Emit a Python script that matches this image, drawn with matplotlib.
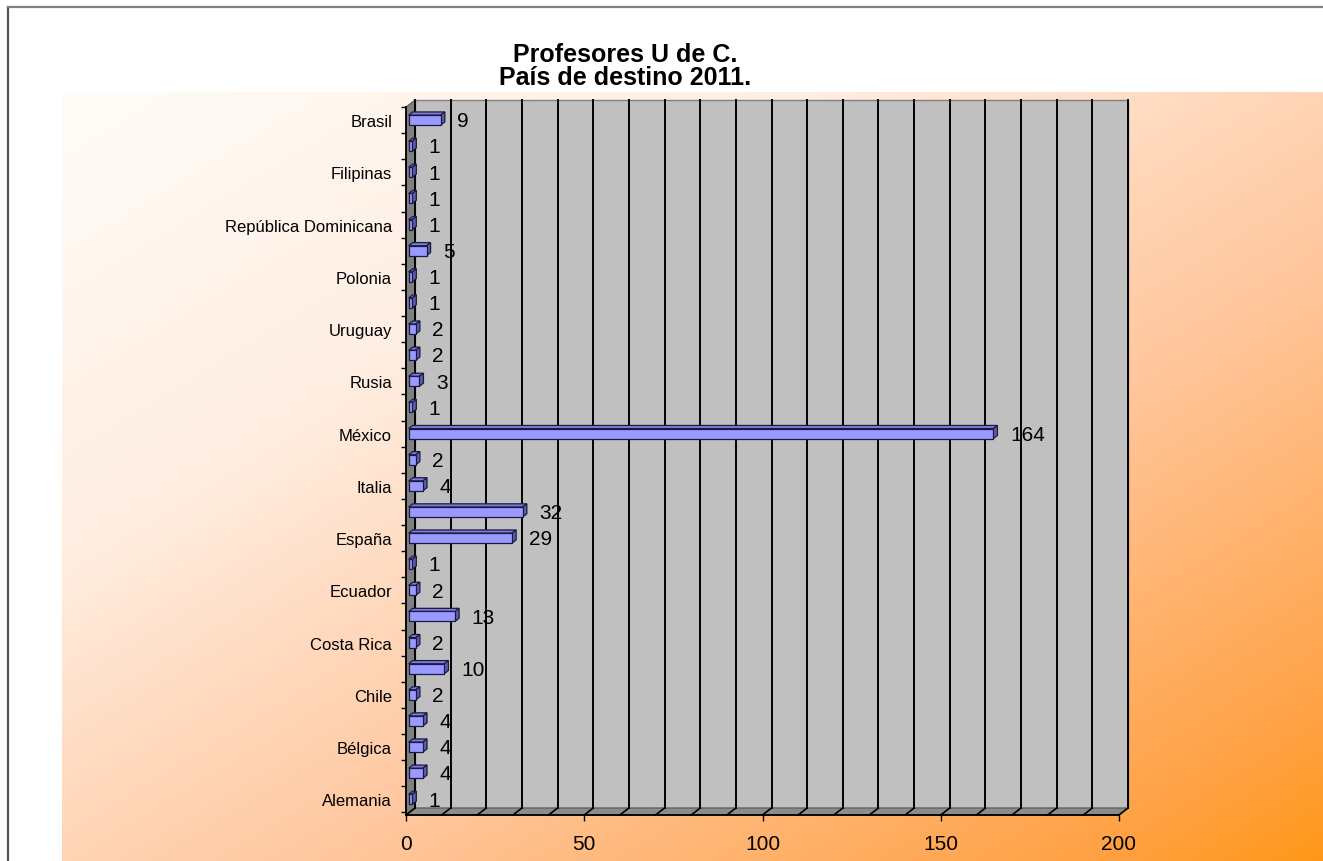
import numpy as np
import matplotlib.pyplot as plt
from matplotlib.patches import Polygon
from matplotlib.lines import Line2D

plt.rcParams["font.family"] = ["Liberation Sans", "DejaVu Sans"]

# data (bottom to top, as drawn); blank labels are categories Excel skipped
paises = ["Alemania", "", "Bélgica", "", "Chile", "", "Costa Rica", "",
          "Ecuador", "", "España", "", "Italia", "", "México", "", "Rusia", "",
          "Uruguay", "", "Polonia", "", "República Dominicana", "", "Filipinas",
          "", "Brasil"]
profesores = [1, 4, 4, 4, 2, 10, 2, 13, 2, 1, 29, 32, 4, 2, 164, 1, 3, 2, 2,
              1, 1, 5, 1, 1, 1, 1, 9]
x_ticks = [0, 50, 100, 150, 200]
titulo = ["Profesores U de C.", "País de destino 2011."]

W, H = 1323, 862
fig = plt.figure(figsize=(W / 100, H / 100), dpi=100)
fig.patch.set_facecolor("white")


def fx(px):
    return px / W


def fy(py):
    return 1 - py / H


# gradient background (white top-left -> orange bottom-right)
bg = fig.add_axes([fx(62), 0, fx(W) - fx(62), fy(93)])
bg.axis("off")
ny, nx = 300, 500
u, v = np.meshgrid(np.linspace(0, 1, nx), np.linspace(0, 1, ny))
t = (u + v) / 2
stops = [0.0, 0.3, 0.5, 0.6, 0.9, 1.0]
g = np.interp(t, stops, [252, 238, 212, 200, 162, 152])
b = np.interp(t, stops, [248, 226, 180, 160, 70, 25])
img = np.dstack([np.full_like(t, 255), g, b]) / 255
bg.imshow(img, aspect="auto", interpolation="bilinear")

# frame lines
fig.add_artist(Line2D([fx(8), fx(8)], [0, fy(8)], color="#555555", lw=1.6))
fig.add_artist(Line2D([fx(8), 1], [fy(8), fy(8)], color="#808080", lw=1.6))

# title
fig.text(fx(625), fy(62), titulo[0], ha="center", va="baseline",
         fontsize=18, fontweight="bold")
fig.text(fx(625), fy(85), titulo[1], ha="center", va="baseline",
         fontsize=18, fontweight="bold")

# main axes: front plane of the 3D box
ax = fig.add_axes([fx(406), fy(816), fx(1119) - fx(406), fy(108) - fy(816)])
ax.patch.set_alpha(0)
x0, x1 = 0, 200
y0, y1 = -0.6, 26.5
ax.set_xlim(x0, x1)
ax.set_ylim(y0, y1)

DX = 9 / 713 * (x1 - x0)
DY = 7 / 708 * (y1 - y0)

# walls
ax.add_patch(Polygon([(x0 + DX, y0 + DY), (x1 + DX, y0 + DY), (x1 + DX, y1 + DY),
                      (x0 + DX, y1 + DY)], closed=True, fc="#C0C0C0",
                     ec="#808080", lw=1, clip_on=False, zorder=0))
ax.add_patch(Polygon([(x0, y0), (x0 + DX, y0 + DY), (x0 + DX, y1 + DY), (x0, y1)],
                     closed=True, fc="#808080", ec="#555555", lw=0.8,
                     clip_on=False, zorder=1))
ax.add_patch(Polygon([(x0, y0), (x1, y0), (x1 + DX, y0 + DY), (x0 + DX, y0 + DY)],
                     closed=True, fc="#8C8C8C", ec="#555555", lw=0.8,
                     clip_on=False, zorder=1))

# gridlines on back wall and floor
for gx in range(x0, x1 + 1, 10):
    ax.plot([gx + DX, gx + DX], [y0 + DY, y1 + DY], color="black", lw=1.4,
            clip_on=False, zorder=2)
    ax.plot([gx, gx + DX], [y0, y0 + DY], color="black", lw=1.2,
            clip_on=False, zorder=2)

# 3D bars
h = 0.38
f1, f2 = 0.3, 0.75
for i, val in enumerate(profesores):
    ox = f1 * DX
    bx, by = f2 * DX, (f2 - f1) * DY
    lo, hi = i - h / 2, i + h / 2
    front = [(ox, lo), (val + ox, lo), (val + ox, hi), (ox, hi)]
    top = [(ox, hi), (val + ox, hi), (val + bx, hi + by), (bx, hi + by)]
    side = [(val + ox, lo), (val + bx, lo + by), (val + bx, hi + by),
            (val + ox, hi)]
    ax.add_patch(Polygon(top, closed=True, fc="#7C7CDC", ec="#1A1A40", lw=0.9,
                         clip_on=False, zorder=4))
    ax.add_patch(Polygon(side, closed=True, fc="#5E5EB0", ec="#1A1A40", lw=0.9,
                         clip_on=False, zorder=4))
    ax.add_patch(Polygon(front, closed=True, fc="#9999FF", ec="#1A1A40", lw=0.9,
                         clip_on=False, zorder=5))
    ax.annotate(str(val), (val + bx, i), xytext=(9, -0.5),
                textcoords="offset points", ha="left", va="center",
                fontsize=15, zorder=6, annotation_clip=False)

# axes styling
for s in ["top", "right"]:
    ax.spines[s].set_visible(False)
for s in ["left", "bottom"]:
    ax.spines[s].set_color("black")
    ax.spines[s].set_linewidth(1.3)
    ax.spines[s].set_zorder(3)

ax.set_xticks(x_ticks)
ax.set_xticklabels([str(x) for x in x_ticks], fontsize=15)
ax.tick_params(axis="x", length=4.5, width=1, pad=9, direction="out")

ax.set_yticks(range(len(paises)))
ax.set_yticklabels(paises, fontsize=12)
ax.tick_params(axis="y", which="major", length=0, pad=10)
ax.set_yticks(np.arange(-0.5, len(paises), 1.0), minor=True)
ax.tick_params(axis="y", which="minor", length=3.5, width=1, direction="out")

fig.savefig("out.png", dpi=100)
